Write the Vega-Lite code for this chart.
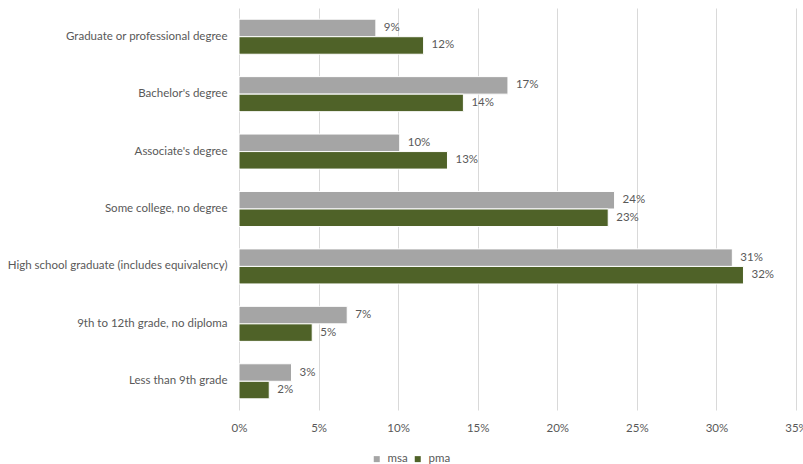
{
  "$schema": "https://vega.github.io/schema/vega-lite/v6.json",
  "autosize": {"type": "none"},
  "padding": {"left": 239, "top": 8, "right": 7, "bottom": 54},
  "width": 557,
  "height": 402,
  "background": "#ffffff",
  "config": {
    "font": "Lato",
    "view": {"stroke": null},
    "axis": {"labelColor": "#595959", "labelFontSize": 11.5, "titleColor": "#595959"}
  },
  "data": {
    "values": [
      {"level": "Graduate or professional degree", "area": "msa", "share": 0.086},
      {"level": "Graduate or professional degree", "area": "pma", "share": 0.116},
      {"level": "Bachelor's degree", "area": "msa", "share": 0.169},
      {"level": "Bachelor's degree", "area": "pma", "share": 0.141},
      {"level": "Associate's degree", "area": "msa", "share": 0.101},
      {"level": "Associate's degree", "area": "pma", "share": 0.131},
      {"level": "Some college, no degree", "area": "msa", "share": 0.236},
      {"level": "Some college, no degree", "area": "pma", "share": 0.232},
      {"level": "High school graduate (includes equivalency)", "area": "msa", "share": 0.31},
      {"level": "High school graduate (includes equivalency)", "area": "pma", "share": 0.317},
      {"level": "9th to 12th grade, no diploma", "area": "msa", "share": 0.068},
      {"level": "9th to 12th grade, no diploma", "area": "pma", "share": 0.046},
      {"level": "Less than 9th grade", "area": "msa", "share": 0.033},
      {"level": "Less than 9th grade", "area": "pma", "share": 0.019}
    ]
  },
  "encoding": {
    "y": {
      "field": "level",
      "type": "nominal",
      "sort": null,
      "scale": {"paddingInner": 0.39, "paddingOuter": 0.195},
      "axis": {"title": null, "ticks": false, "domain": false, "labelPadding": 12, "labelLimit": 300}
    },
    "yOffset": {
      "field": "area",
      "type": "nominal",
      "sort": ["msa", "pma"],
      "scale": {"paddingInner": 0, "paddingOuter": 0}
    },
    "x": {
      "field": "share",
      "type": "quantitative",
      "scale": {"domain": [0, 0.35], "nice": false},
      "axis": {
        "title": null,
        "format": ".0%",
        "values": [0, 0.05, 0.1, 0.15, 0.2, 0.25, 0.3, 0.35],
        "ticks": false,
        "domain": false,
        "labelPadding": 12,
        "labelFlush": false,
        "labelOverlap": false,
        "labelBound": false,
        "grid": true,
        "gridColor": "#d9d9d9",
        "gridWidth": 1
      }
    }
  },
  "layer": [
    {
      "mark": {"type": "bar", "stroke": "#ffffff", "strokeWidth": 1},
      "encoding": {
        "color": {
          "field": "area",
          "type": "nominal",
          "scale": {"domain": ["msa", "pma"], "range": ["#a5a5a5", "#4f6228"]},
          "legend": {
            "title": null,
            "orient": "none",
            "direction": "horizontal",
            "legendX": 132,
            "legendY": 445,
            "symbolType": "square",
            "symbolSize": 36,
            "symbolStrokeWidth": 0,
            "labelFontSize": 11.5,
            "labelColor": "#595959",
            "labelOffset": 5,
            "columnPadding": 4
          }
        }
      }
    },
    {
      "mark": {"type": "text", "align": "left", "baseline": "middle", "dx": 8, "fontSize": 11.5, "color": "#595959"},
      "encoding": {
        "text": {"field": "share", "type": "quantitative", "format": ".0%"}
      }
    }
  ]
}
